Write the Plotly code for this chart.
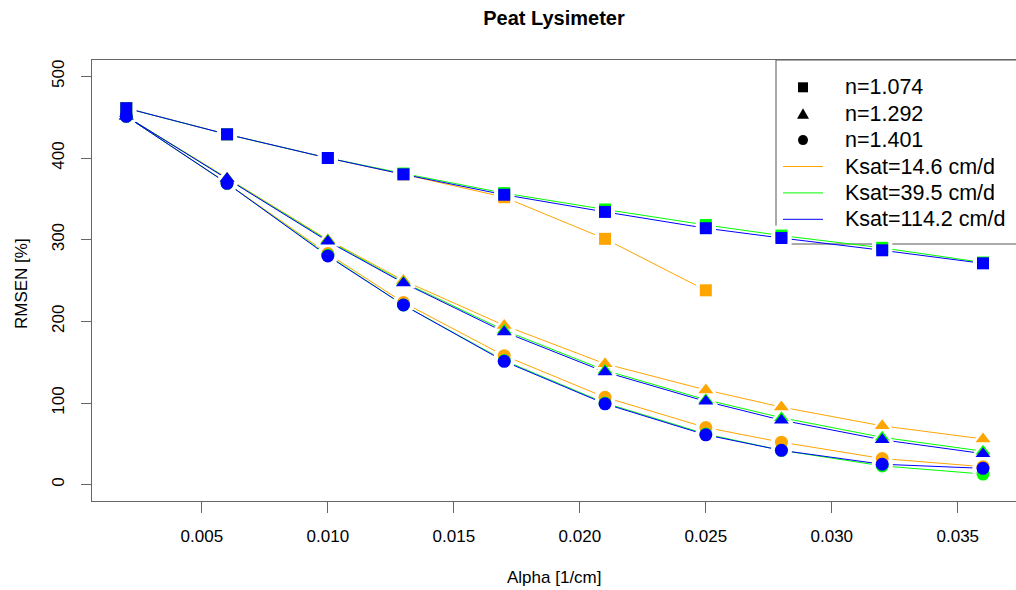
import plotly.graph_objects as go

alpha = [0.002, 0.006, 0.010, 0.013, 0.017, 0.021, 0.025, 0.028, 0.032, 0.036]

# n = 1.074 (squares)
sq_k146 = [461, 429, 400, 380, 352, 301, 238]
sq_k395 = [461, 429, 400, 381, 357, 337, 318, 305, 290, 272]
sq_k1142 = [461, 429, 400, 380, 355, 334, 314, 302, 287, 271]
# n = 1.292 (triangles)
tr_k146 = [451, 375, 300, 250, 195, 148, 116, 95, 72, 56]
tr_k395 = [451, 375, 299, 248, 189, 140, 104, 82, 58, 41]
tr_k1142 = [451, 375, 298, 247, 187, 138, 102, 79, 55, 38]
# n = 1.401 (circles)
ci_k146 = [451, 369, 283, 223, 158, 107, 70, 52, 32, 22]
ci_k395 = [451, 369, 281, 220, 152, 100, 62, 42, 23, 13]
ci_k1142 = [451, 369, 280, 220, 151, 99, 61, 42, 25, 20]

n_labels = ["n=1.074", "n=1.292", "n=1.401"]
k_labels = ["Ksat=14.6 cm/d", "Ksat=39.5 cm/d", "Ksat=114.2 cm/d"]
k_colors = ["#FFA500", "#00FF00", "#0000FF"]
symbols = ["square", "triangle-up", "circle"]
sizes = [12, 13, 13]

series = [
    [sq_k146, tr_k146, ci_k146],
    [sq_k395, tr_k395, ci_k395],
    [sq_k1142, tr_k1142, ci_k1142],
]

FONT = "Liberation Sans, Arial, sans-serif"
fig = go.Figure()

# lines
for ki, group in enumerate(series):
    for ni, vals in enumerate(group):
        fig.add_trace(go.Scatter(x=alpha[:len(vals)], y=vals, mode="lines",
                                 line=dict(color=k_colors[ki], width=1),
                                 showlegend=False, hoverinfo="skip"))
# white halos (gaps like R type="b")
for ki, group in enumerate(series):
    for ni, vals in enumerate(group):
        fig.add_trace(go.Scatter(x=alpha[:len(vals)], y=vals, mode="markers",
                                 marker=dict(symbol=symbols[ni], size=sizes[ni] + 8,
                                             color="white", line=dict(width=0)),
                                 showlegend=False, hoverinfo="skip"))
# markers
for ki, group in enumerate(series):
    for ni, vals in enumerate(group):
        fig.add_trace(go.Scatter(x=alpha[:len(vals)], y=vals, mode="markers",
                                 marker=dict(symbol=symbols[ni], size=sizes[ni],
                                             color=k_colors[ki], line=dict(width=0)),
                                 name=f"{n_labels[ni]}, {k_labels[ki]}",
                                 showlegend=False))

# ---- manual legend (pixel layout converted to paper coords) ----
L, T, PW, PH = 92, 60, 924, 441
def px(x):
    return (x - L) / PW
def py(y):
    return (T + PH - y) / PH

row_y = [87.3 + 26.4 * i for i in range(6)]
sym_x = 803
text_x = 843

shapes = [dict(type="rect", xref="paper", yref="paper",
               x0=px(776), x1=1.05, y0=py(244), y1=py(60),
               line=dict(color="#555555", width=1), fillcolor="rgba(0,0,0,0)",
               layer="below")]
# square
shapes.append(dict(type="rect", xref="paper", yref="paper",
                   x0=px(sym_x - 5), x1=px(sym_x + 5), y0=py(row_y[0] + 5), y1=py(row_y[0] - 5),
                   line=dict(width=0), fillcolor="black"))
# triangle
ty = row_y[1]
shapes.append(dict(type="path", xref="paper", yref="paper",
                   path=f"M {px(sym_x - 6)},{py(ty + 5)} L {px(sym_x + 6)},{py(ty + 5)} "
                        f"L {px(sym_x)},{py(ty - 5.5)} Z",
                   line=dict(width=0), fillcolor="black"))
# circle
cy = row_y[2]
shapes.append(dict(type="circle", xref="paper", yref="paper",
                   x0=px(sym_x - 5), x1=px(sym_x + 5), y0=py(cy + 5), y1=py(cy - 5),
                   line=dict(width=0), fillcolor="black"))
for ki in range(3):
    yy = row_y[3 + ki]
    shapes.append(dict(type="line", xref="paper", yref="paper",
                       x0=px(783), x1=px(823), y0=py(yy), y1=py(yy),
                       line=dict(color=k_colors[ki], width=1)))

annotations = [
    dict(text="Alpha [1/cm]", xref="paper", yref="paper", x=0.5, y=py(577),
         xanchor="center", yanchor="middle", showarrow=False, font=dict(size=17)),
    dict(text="RMSEN [%]", xref="paper", yref="paper", x=px(21), y=py(284),
         xanchor="center", yanchor="middle", textangle=-90, showarrow=False,
         font=dict(size=17)),
]
for i, lab in enumerate(n_labels + k_labels):
    annotations.append(dict(text=lab, xref="paper", yref="paper", x=px(text_x), y=py(row_y[i]),
                            xanchor="left", yanchor="middle", showarrow=False,
                            font=dict(size=21.5)))

axis_col = "#666666"
fig.update_layout(
    width=1016, height=590,
    margin=dict(l=92, r=0, t=60, b=89),
    paper_bgcolor="white", plot_bgcolor="white",
    font=dict(family=FONT, color="black", size=17),
    title=dict(text="<b>Peat Lysimeter</b>", x=0.5, xref="paper", xanchor="center",
               y=1 - 18 / 590, yanchor="middle", font=dict(size=20, family=FONT)),
    showlegend=False,
    xaxis=dict(range=[0.00064, 0.03731], tickvals=[0.005, 0.010, 0.015, 0.020, 0.025, 0.030, 0.035],
               tickformat=".3f", showgrid=False, zeroline=False,
               showline=True, linecolor=axis_col, linewidth=1, mirror=True,
               ticks="outside", ticklen=11, tickcolor=axis_col, tickwidth=1,
               ticklabelstandoff=9, tickfont=dict(size=17)),
    yaxis=dict(range=[-20, 520], tickvals=[0, 100, 200, 300, 400, 500],
               showgrid=False, zeroline=False,
               showline=True, linecolor=axis_col, linewidth=1,
               ticks="outside", ticklen=10, tickcolor=axis_col, tickwidth=1,
               tickangle=-90, ticklabelstandoff=10, tickfont=dict(size=17)),
    shapes=shapes,
    annotations=annotations,
)

fig.write_html("out.html")
